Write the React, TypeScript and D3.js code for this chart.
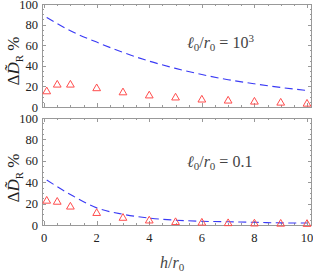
import { useRef, useEffect } from "react";
import * as d3 from "d3";

// shared x positions (h / r0)
const curveH = [0.1, 1, 2, 3, 4, 5, 6, 7, 8, 9, 10];
const markH = [0.1, 0.5, 1, 2, 3, 4, 5, 6, 7, 8, 9, 10];

// top panel, l0/r0 = 10^3
const topCurve = [87, 74, 63, 53, 44.5, 37.5, 31.5, 26.5, 22.5, 19, 16];
const topMarks = [15, 21.5, 21.5, 18, 14, 11, 9, 7, 6, 5, 4, 3];

// bottom panel, l0/r0 = 0.1
const botCurve = [42, 28.5, 16, 10, 6.5, 4.5, 3.5, 3, 2.5, 2, 1.8];
const botMarks = [22.5, 21.5, 17, 11, 6.5, 4, 2.5, 2, 1.5, 1.2, 1, 0.8];

const xTicks = [0, 2, 4, 6, 8, 10];
const yTicks = [0, 20, 40, 60, 80, 100];

const App = () => {
  const svgRef = useRef(null);
  const width = 313;
  const height = 273;

  useEffect(() => {
    const svg = d3.select(svgRef.current);
    svg.selectAll("*").remove();

    const x = d3.scaleLinear().domain([-0.08, 10.19]).range([42, 312]);
    const frameColor = "#999";
    const serif = '"Liberation Serif", "Times New Roman", serif';

    const panels = [
      { top: 4, bottom: 107, curve: topCurve, marks: topMarks, labels: false, note: ["10", "3"], noteY: 48, labelY: 61 },
      { top: 118, bottom: 225, curve: botCurve, marks: botMarks, labels: true, note: ["0.1", ""], noteY: 167, labelY: 178 },
    ];

    panels.forEach(p => {
      const y = d3.scaleLinear().domain([0, 100]).range([p.bottom, p.top]);
      const g = svg.append("g");

      // frame
      g.append("rect")
        .attr("x", 42.5).attr("y", p.top + 0.5)
        .attr("width", 269).attr("height", p.bottom - p.top)
        .attr("fill", "none").attr("stroke", frameColor).attr("stroke-width", 1);

      // x ticks (inward, bottom and top)
      d3.range(0, 10.01, 0.5).forEach(v => {
        const major = v % 2 === 0;
        const len = major ? 4 : 2;
        const px = Math.round(x(v)) + 0.5;
        g.append("line").attr("x1", px).attr("x2", px)
          .attr("y1", p.bottom).attr("y2", p.bottom - len)
          .attr("stroke", frameColor);
        g.append("line").attr("x1", px).attr("x2", px)
          .attr("y1", p.top).attr("y2", p.top + len)
          .attr("stroke", frameColor);
      });

      // y ticks (inward, left and right)
      d3.range(0, 100.1, 5).forEach(v => {
        const major = v % 20 === 0;
        const len = major ? 4 : 2;
        const py = Math.round(y(v)) + 0.5;
        g.append("line").attr("x1", 42).attr("x2", 42 + len)
          .attr("y1", py).attr("y2", py).attr("stroke", frameColor);
        g.append("line").attr("x1", 312).attr("x2", 312 - len)
          .attr("y1", py).attr("y2", py).attr("stroke", frameColor);
      });

      // y tick labels
      g.selectAll(".ylab").data(yTicks).enter().append("text")
        .attr("x", 38).attr("y", d => y(d) + 4.5)
        .attr("text-anchor", "end")
        .style("font-family", serif).style("font-size", "12.5px")
        .attr("fill", "#222")
        .text(d => d);

      if (p.labels) {
        g.selectAll(".xlab").data(xTicks).enter().append("text")
          .attr("x", d => x(d)).attr("y", p.bottom + 17)
          .attr("text-anchor", "middle")
          .style("font-family", serif).style("font-size", "12.5px")
          .attr("fill", "#222")
          .text(d => d);
      }

      // dashed curve
      const line = d3.line<number>()
        .x((d, i) => x(curveH[i]))
        .y(d => y(d))
        .curve(d3.curveMonotoneX);
      g.append("path")
        .attr("d", line(p.curve))
        .attr("fill", "none")
        .attr("stroke", "#3a3af5")
        .attr("stroke-width", 1.1)
        .attr("stroke-dasharray", "8,4.5");

      // open triangles
      const tri = d3.symbol().type(d3.symbolTriangle).size(26);
      g.selectAll(".tri").data(p.marks).enter().append("path")
        .attr("d", tri)
        .attr("transform", (d, i) => `translate(${x(markH[i])},${y(d)})`)
        .attr("fill", "none")
        .attr("stroke", "#ff4d4d")
        .attr("stroke-width", 1);

      // y axis label
      const lab = g.append("text")
        .attr("transform", `translate(19,${p.labelY}) rotate(-90)`)
        .attr("text-anchor", "middle")
        .style("font-family", serif).style("font-size", "17px")
        .attr("fill", "#222");
      lab.append("tspan").text("Δ");
      lab.append("tspan").style("font-style", "italic").text("D\u0303");
      lab.append("tspan").style("font-size", "11px").attr("dy", 4).text("R");
      lab.append("tspan").attr("dy", -4).text(" %");

      // annotation
      const note = g.append("text")
        .attr("x", 187).attr("y", p.noteY)
        .style("font-family", serif).style("font-size", "16px")
        .attr("fill", "#444");
      note.append("tspan").style("font-style", "italic").text("ℓ");
      note.append("tspan").style("font-size", "11px").attr("dy", 3).text("0");
      note.append("tspan").attr("dy", -3).text("/");
      note.append("tspan").style("font-style", "italic").text("r");
      note.append("tspan").style("font-size", "11px").attr("dy", 3).text("0");
      note.append("tspan").attr("dy", -3).text(" = " + p.note[0]);
      if (p.note[1]) {
        note.append("tspan").style("font-size", "11px").attr("dy", -6).text(p.note[1]);
      }
    });

    // x axis title
    const xt = svg.append("text")
      .attr("x", 160).attr("y", 268)
      .style("font-family", serif).style("font-size", "16px")
      .attr("fill", "#444");
    xt.append("tspan").style("font-style", "italic").text("h");
    xt.append("tspan").text("/");
    xt.append("tspan").style("font-style", "italic").text("r");
    xt.append("tspan").style("font-size", "11px").attr("dy", 3).text("0");
  }, []);

  return (
    <svg
      ref={svgRef}
      width={width}
      height={height}
      style={{ position: "absolute", left: 0, top: 0, background: "#fff" }}
    ></svg>
  );
};

export default App;
